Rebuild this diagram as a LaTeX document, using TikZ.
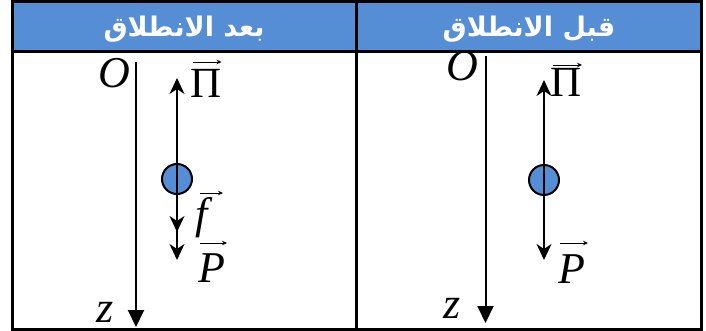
\documentclass[tikz,border=0pt]{standalone}
\usepackage{fontspec}
\setmainfont{Liberation Serif}
\newfontfamily\arabicfont[Script=Arabic]{DejaVu Sans}
\usetikzlibrary{arrows.meta}
\TeXXeTstate=1
\definecolor{hblue}{HTML}{558ED5}
\tikzset{
  frame/.style={line width=3pt},
  hdr/.style={text=white,font=\arabicfont\bfseries\fontsize{27}{30}\selectfont,inner sep=0pt},
  lbl/.style={font=\fontsize{44}{48}\selectfont\itshape,inner sep=0pt,anchor=base},
  lblup/.style={font=\fontsize{43}{48}\selectfont,inner sep=0pt,anchor=base},
  axis/.style={line width=2pt,-{Triangle[length=17pt,width=16pt]}},
  vec/.style={line width=1.5pt,-{Stealth[length=16pt,width=15pt,inset=5pt]}},
  over/.style={line width=0.8pt,-{Stealth[length=5pt,width=4.5pt]}},
  ball/.style={circle,draw=black,line width=2pt,fill=hblue,minimum size=30pt,inner sep=0pt}
}
\begin{document}
\begin{tikzpicture}[x=1pt,y=-1pt]
\useasboundingbox (0,0) rectangle (706,331);
% table
\fill[hblue] (12,1.5) rectangle (701,51.5);
\draw[frame] (12,1.5) rectangle (701,329.5);
\draw[frame] (12,51.5) -- (701,51.5);
\draw[frame] (356.7,1.5) -- (356.7,329.5);
% headers
\node[hdr] (h1) at (184,29) {\beginR بعد الانطلاق\endR};
\node[hdr] (h2) at (529,29) {\beginR قبل الانطلاق\endR};
% ---------- left cell (after launch)
\node[lbl] (O1) at (114.5,88) {O};
\node[lbl] (z1) at (105,322) {z};
\coordinate (a1top) at (136,62);
\coordinate (a1tip) at (136,327);
\draw[axis] (a1top) -- (a1tip);
\node[ball] (c1) at (177,179) {};
\coordinate (u1) at (177,78);
\coordinate (f1) at (177,232);
\coordinate (p1) at (177,260);
\draw[vec] (c1.center) -- (u1);
\draw[vec] (c1.center) -- (p1);
\draw[vec] (c1.center) -- (f1);
\node[lblup] (pi1) at (206.5,98) {Π};
\node[lbl] (ff1) at (202,228) {f};
\node[lbl] (P1) at (211.5,282) {P};
\draw[over] ([shift={(-14,-36)}]pi1.base) -- ++(29,0);
\draw[over] ([shift={(-2,-35)}]ff1.base) -- ++(23,0);
\draw[over] ([shift={(-11.5,-39)}]P1.base) -- ++(27,0);
% ---------- right cell (before launch)
\node[lbl] (O2) at (462.5,81) {O};
\node[lbl] (z2) at (452.5,318) {z};
\coordinate (a2top) at (485.5,56);
\coordinate (a2tip) at (485.5,323);
\draw[axis] (a2top) -- (a2tip);
\node[ball] (c2) at (544,180) {};
\coordinate (u2) at (544,80);
\coordinate (p2) at (544,260);
\draw[vec] (c2.center) -- (u2);
\draw[vec] (c2.center) -- (p2);
\node[lblup] (pi2) at (566,97) {Π};
\node[lbl] (P2) at (571.5,283) {P};
\draw[over] ([shift={(-13,-32)}]pi2.base) -- ++(29,0);
\draw[over] ([shift={(-11.5,-40)}]P2.base) -- ++(28,0);
\end{tikzpicture}
\end{document}
